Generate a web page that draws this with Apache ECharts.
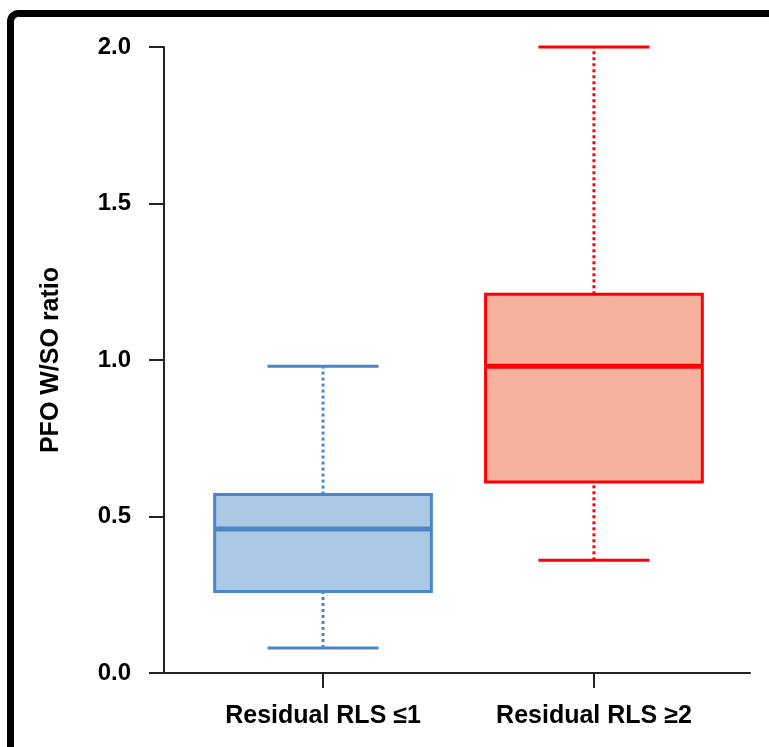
<!DOCTYPE html>
<html>
<head>
<meta charset="utf-8">
<script src="https://cdn.jsdelivr.net/npm/echarts@6/dist/echarts.min.js"></script>
<style>
  html, body { margin: 0; padding: 0; background: #fff; }
  #chart { width: 769px; height: 747px; }
</style>
</head>
<body>
<div id="chart"></div>
<script>
// ---- data ----
const categories = ['Residual RLS ≤1', 'Residual RLS ≥2'];
const minVals    = [0.08, 0.36];
const q1Vals     = [0.26, 0.61];
const medianVals = [0.46, 0.98];
const q3Vals     = [0.57, 1.21];
const maxVals    = [0.98, 2.0];

// ---- styles ----
const strokeColors = ['#4a86c8', '#fb0007'];
const fillColors   = ['#abc8e5', '#f5b19b'];

const boxData = categories.map((c, i) => [i, minVals[i], q1Vals[i], medianVals[i], q3Vals[i], maxVals[i]]);

const chart = echarts.init(document.getElementById('chart'), null, { renderer: 'canvas' });
const font = "'Liberation Sans', Arial, Helvetica, sans-serif";

chart.setOption({
  backgroundColor: '#fff',
  animation: false,
  grid: { left: 164, right: 19, top: 47, bottom: 74, containLabel: false },
  xAxis: {
    type: 'value',
    min: -0.587,
    max: 1.576,
    axisLine: { show: true, onZero: false, lineStyle: { color: '#222', width: 2 } },
    axisTick: { show: true, customValues: [0, 1], length: 15, lineStyle: { color: '#222', width: 2 } },
    axisLabel: {
      customValues: [0, 1],
      formatter: v => categories[Math.round(v)],
      color: '#000', fontSize: 25, fontWeight: 'bold', fontFamily: font, margin: 31
    },
    splitLine: { show: false }
  },
  yAxis: {
    type: 'value',
    min: 0, max: 2, interval: 0.5,
    name: 'PFO W/SO ratio',
    nameLocation: 'middle',
    nameGap: 100,
    nameTextStyle: { color: '#000', fontSize: 25, fontWeight: 'bold', fontFamily: font },
    axisLine: { show: true, onZero: false, lineStyle: { color: '#222', width: 2 } },
    axisTick: { show: true, length: 15, lineStyle: { color: '#222', width: 2 } },
    axisLabel: {
      formatter: v => v.toFixed(1),
      color: '#000', fontSize: 24, fontWeight: 'bold', fontFamily: font, margin: 33
    },
    splitLine: { show: false }
  },
  graphic: [{
    type: 'rect',
    shape: { x: 10.5, y: 13.5, width: 820, height: 820, r: 8 },
    style: { fill: 'none', stroke: '#000', lineWidth: 7 },
    z: 100,
    silent: true
  }],
  series: [{
    type: 'custom',
    data: boxData,
    clip: false,
    renderItem: function (params, api) {
      const i = api.value(0);
      const sc = strokeColors[i];
      const fc = fillColors[i];
      const boxW = api.size([0.8, 0])[0];
      const capW = api.size([0.41, 0])[0];
      const pMin = api.coord([i, api.value(1)]);
      const pQ1 = api.coord([i, api.value(2)]);
      const pMed = api.coord([i, api.value(3)]);
      const pQ3 = api.coord([i, api.value(4)]);
      const pMax = api.coord([i, api.value(5)]);
      const cx = pMed[0];
      const dotted = { stroke: sc, lineWidth: 3, lineDash: [3, 3] };
      const solid = { stroke: sc, lineWidth: 3 };
      return {
        type: 'group',
        children: [
          { type: 'line', shape: { x1: cx, y1: pQ3[1], x2: cx, y2: pMax[1] }, style: dotted },
          { type: 'line', shape: { x1: cx, y1: pMin[1], x2: cx, y2: pQ1[1] }, style: dotted },
          { type: 'rect', shape: { x: cx - boxW / 2, y: pQ3[1], width: boxW, height: pQ1[1] - pQ3[1] },
            style: { fill: fc, stroke: sc, lineWidth: 3 } },
          { type: 'line', shape: { x1: cx - boxW / 2, y1: pMed[1], x2: cx + boxW / 2, y2: pMed[1] },
            style: { stroke: sc, lineWidth: 5 } },
          { type: 'line', shape: { x1: cx - capW / 2, y1: pMax[1], x2: cx + capW / 2, y2: pMax[1] }, style: solid },
          { type: 'line', shape: { x1: cx - capW / 2, y1: pMin[1], x2: cx + capW / 2, y2: pMin[1] }, style: solid }
        ]
      };
    }
  }]
});
</script>
</body>
</html>
